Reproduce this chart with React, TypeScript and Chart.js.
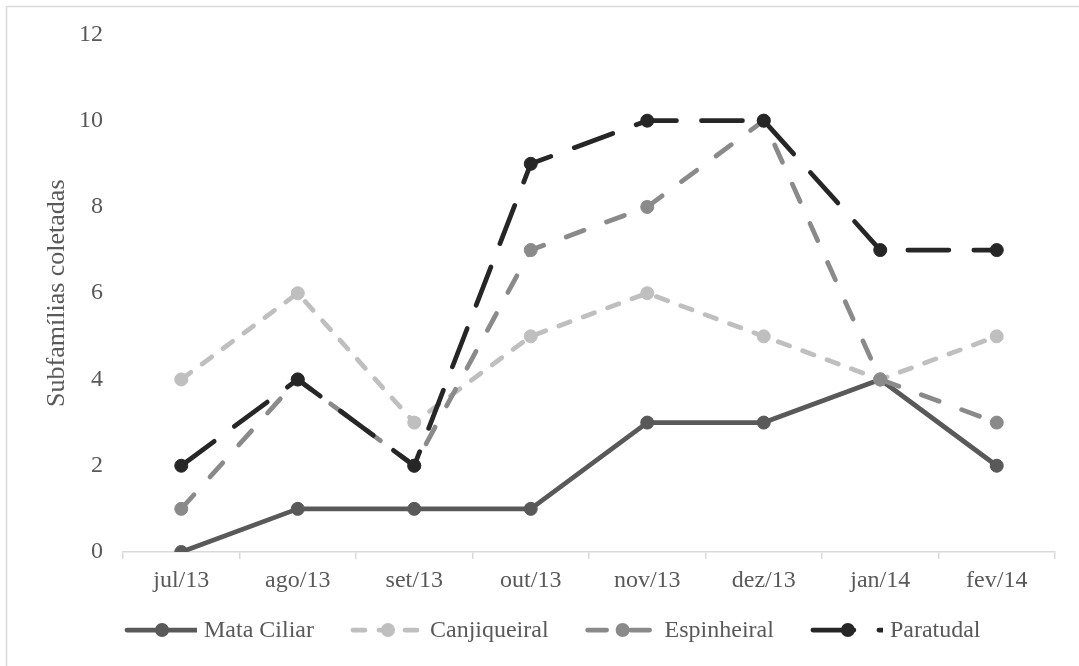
import React, { useEffect, useRef } from "react";
import { Chart, registerables } from "chart.js";

Chart.register(...registerables);

const months = ["jul/13", "ago/13", "set/13", "out/13", "nov/13", "dez/13", "jan/14", "fev/14"];
const mataCiliar = [0, 1, 1, 1, 3, 3, 4, 2];
const canjiqueiral = [4, 6, 3, 5, 6, 5, 4, 5];
const espinheiral = [1, 4, 2, 7, 8, 10, 4, 3];
const paratudal = [2, 4, 2, 9, 10, 10, 7, 7];
const yTicks = [0, 2, 4, 6, 8, 10, 12];

const FONT = "'Liberation Serif', 'Times New Roman', serif";
const TEXT = "#595959";

const seriesStyle = [
  { label: "Mata Ciliar", data: mataCiliar, color: "#595959", dash: [] as number[], order: 3 },
  { label: "Canjiqueiral", data: canjiqueiral, color: "#bfbfbf", dash: [12, 14], order: 2 },
  { label: "Espinheiral", data: espinheiral, color: "#8a8a8a", dash: [19, 24], order: 1 },
  { label: "Paratudal", data: paratudal, color: "#262626", dash: [41, 25], order: 0 },
];

// Frame, rotated axis title and the line-with-marker legend under the plot.
const decorations = {
  id: "decorations",
  beforeDraw(chart: any) {
    const ctx = chart.ctx;
    ctx.save();
    ctx.fillStyle = "#ffffff";
    ctx.fillRect(0, 0, chart.width, chart.height);
    ctx.strokeStyle = "#d9d9d9";
    ctx.lineWidth = 1.5;
    ctx.strokeRect(6.5, 6.5, chart.width + 10, chart.height + 10);
    ctx.restore();
  },
  afterDraw(chart: any) {
    const ctx = chart.ctx;
    const area = chart.chartArea;
    ctx.save();
    // y-axis title
    ctx.fillStyle = TEXT;
    ctx.font = `26px ${FONT}`;
    ctx.textAlign = "center";
    ctx.textBaseline = "middle";
    ctx.translate(57, (area.top + area.bottom) / 2);
    ctx.rotate(-Math.PI / 2);
    ctx.fillText("Subfamílias coletadas", 0, 0);
    ctx.restore();

    // legend
    ctx.save();
    ctx.font = `24px ${FONT}`;
    ctx.textBaseline = "middle";
    ctx.textAlign = "left";
    const y = 630;
    const symbolW = 70;
    let x = 127;
    chart.data.datasets.forEach((ds: any) => {
      ctx.save();
      ctx.beginPath();
      ctx.rect(x - 4, y - 10, symbolW + 4, 20);
      ctx.clip();
      ctx.strokeStyle = ds.borderColor;
      ctx.lineWidth = ds.borderWidth;
      ctx.lineCap = "round";
      ctx.setLineDash(ds.borderDash);
      ctx.beginPath();
      ctx.moveTo(x, y);
      ctx.lineTo(x + symbolW, y);
      ctx.stroke();
      ctx.restore();
      ctx.beginPath();
      ctx.fillStyle = ds.pointBackgroundColor;
      ctx.arc(x + symbolW / 2, y, ds.pointRadius + 0.5, 0, Math.PI * 2);
      ctx.fill();
      ctx.fillStyle = TEXT;
      const tx = x + symbolW + 7;
      ctx.fillText(ds.label, tx, y + 1);
      x = tx + ctx.measureText(ds.label).width + 39;
    });
    ctx.restore();
  },
};

export default function App() {
  const ref = useRef<HTMLCanvasElement | null>(null);

  useEffect(() => {
    if (!ref.current) return;
    const chart = new Chart(ref.current, {
      type: "line",
      data: {
        labels: months,
        datasets: seriesStyle.map((s) => ({
          label: s.label,
          data: s.data,
          borderColor: s.color,
          backgroundColor: s.color,
          pointBackgroundColor: s.color,
          pointBorderColor: s.color,
          pointRadius: 6.5,
          pointBorderWidth: 1,
          borderWidth: 4.75,
          borderDash: s.dash,
          borderCapStyle: "round",
          borderJoinStyle: "round",
          tension: 0,
          order: s.order,
          fill: false,
        })),
      },
      options: {
        responsive: false,
        animation: false,
        layout: { padding: { left: 0, top: 34, right: 24, bottom: 0 } },
        plugins: {
          legend: { display: false },
          tooltip: { enabled: false },
        },
        scales: {
          x: {
            offset: true,
            grid: {
              display: true,
              offset: true,
              drawOnChartArea: false,
              drawTicks: true,
              tickLength: 7,
              color: "#d9d9d9",
              lineWidth: 1.5,
            },
            border: { display: true, color: "#d9d9d9", width: 1.5 },
            ticks: {
              color: TEXT,
              font: { family: FONT, size: 24 },
              padding: 7,
              maxRotation: 0,
              autoSkip: false,
            },
            afterFit(scale: any) {
              scale.height = 114;
            },
          },
          y: {
            min: 0,
            max: 12,
            afterBuildTicks(scale: any) {
              scale.ticks = yTicks.map((v) => ({ value: v }));
            },
            grid: { display: false, drawTicks: false, tickLength: 0 },
            border: { display: false },
            ticks: {
              color: TEXT,
              font: { family: FONT, size: 24 },
              padding: 20,
            },
            afterFit(scale: any) {
              scale.width = 123;
            },
          },
        },
      },
      plugins: [decorations],
    });
    return () => chart.destroy();
  }, []);

  return (
    <div style={{ position: "absolute", left: 0, top: 0, width: 1079, height: 666 }}>
      <canvas ref={ref} width={1079} height={666} style={{ display: "block" }} />
    </div>
  );
}
